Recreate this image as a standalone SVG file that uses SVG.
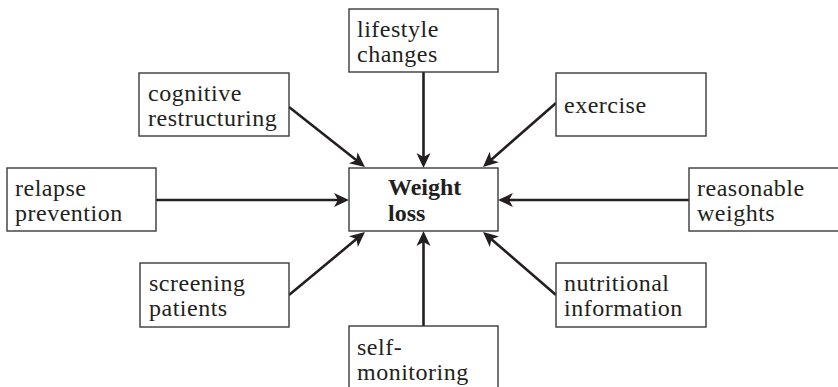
<svg xmlns="http://www.w3.org/2000/svg" width="838" height="387" viewBox="0 0 838 387">
  <defs>
    <!-- barbed arrowhead; tip sits 8px beyond the line end -->
    <marker id="arrow" markerUnits="userSpaceOnUse" viewBox="-10 -10 20 20" refX="0" refY="0" markerWidth="20" markerHeight="20" orient="auto" overflow="visible">
      <path d="M8,0 L-7,-7 L-3,0 L-7,7 Z" fill="#231f20"/>
    </marker>
    <style>
      .box { fill: #ffffff; stroke: #3a3a3a; stroke-width: 1.4; }
      .label { font-size: 24px; letter-spacing: 0.5px; fill: #231f20; }
      .center { font-weight: bold; letter-spacing: 0; }
      .link { stroke: #231f20; stroke-width: 2.6; fill: none; marker-end: url(#arrow); }
    </style>
  </defs>
  <rect width="838" height="387" fill="#ffffff"/>

  <g id="connectors">
    <line class="link" x1="423.5" y1="72" x2="423.5" y2="160"/>
    <line class="link" x1="423.5" y1="326" x2="423.5" y2="239"/>
    <line class="link" x1="156" y1="200" x2="341" y2="200"/>
    <line class="link" x1="689" y1="200" x2="506" y2="200"/>
    <line class="link" x1="289" y1="107" x2="358.7" y2="162"/>
    <line class="link" x1="556" y1="103" x2="489" y2="161.7"/>
    <line class="link" x1="289" y1="295" x2="358.8" y2="237.1"/>
    <line class="link" x1="556" y1="295" x2="489.1" y2="237.2"/>
  </g>

  <g font-family="Liberation Serif, Times New Roman, serif">
    <g id="weight-loss">
      <rect class="box" x="349" y="168" width="149" height="63"/>
      <text class="label center" x="388" y="195">Weight</text>
      <text class="label center" x="388" y="221">loss</text>
    </g>

    <g id="lifestyle-changes">
      <rect class="box" x="349" y="9" width="149" height="63"/>
      <text class="label" x="357" y="37">lifestyle</text>
      <text class="label" x="357" y="62">changes</text>
    </g>

    <g id="cognitive-restructuring">
      <rect class="box" x="139" y="73" width="150" height="63"/>
      <text class="label" x="148" y="101">cognitive</text>
      <text class="label" x="148" y="126">restructuring</text>
    </g>

    <g id="exercise">
      <rect class="box" x="556" y="73" width="150" height="63"/>
      <text class="label" x="564" y="113">exercise</text>
    </g>

    <g id="relapse-prevention">
      <rect class="box" x="7" y="168" width="149" height="63"/>
      <text class="label" x="15" y="196">relapse</text>
      <text class="label" x="15" y="221">prevention</text>
    </g>

    <g id="reasonable-weights">
      <rect class="box" x="689" y="168" width="160" height="63"/>
      <text class="label" x="697" y="196">reasonable</text>
      <text class="label" x="697" y="221">weights</text>
    </g>

    <g id="screening-patients">
      <rect class="box" x="140" y="263" width="149" height="64"/>
      <text class="label" x="149" y="291">screening</text>
      <text class="label" x="149" y="316">patients</text>
    </g>

    <g id="nutritional-information">
      <rect class="box" x="556" y="263" width="150" height="64"/>
      <text class="label" x="564" y="291">nutritional</text>
      <text class="label" x="564" y="316">information</text>
    </g>

    <g id="self-monitoring">
      <rect class="box" x="349" y="326" width="149" height="70"/>
      <text class="label" x="357" y="355">self-</text>
      <text class="label" x="357" y="380">monitoring</text>
    </g>
  </g>
</svg>
